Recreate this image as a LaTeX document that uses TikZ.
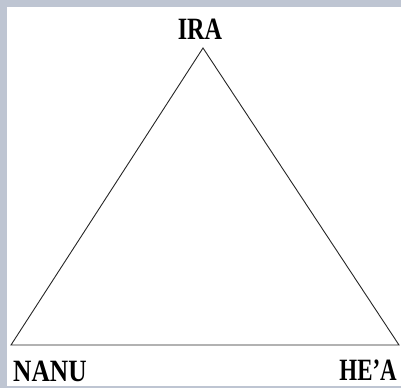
\documentclass[tikz,border=0pt]{standalone}
\usepackage{fontspec}
\setmainfont{Liberation Serif}
\definecolor{framegray}{RGB}{190,197,210}
\begin{document}
\begin{tikzpicture}[x=1pt,y=1pt,
  lbl/.style={inner sep=0pt,text depth=0pt,font=\fontsize{31}{31}\selectfont\bfseries},
  edge/.style={draw=black!85,line width=0.9pt}]
\useasboundingbox (0,0) rectangle (401,-388);
\fill[white] (0,0) rectangle (401,-388);
\fill[framegray] (0,0) rectangle (401,-7);
\fill[framegray] (0,0) rectangle (7,-388);
\fill[framegray] (0,-386) rectangle (401,-388);
\coordinate (top) at (203,-48);
\coordinate (bl) at (11,-345);
\coordinate (br) at (399,-345);
\draw[edge] (top) -- (bl) -- (br) -- cycle;
\node[lbl,anchor=base] (ira) at (200,-39) {\scalebox{0.78}[1]{IRA}};
\node[lbl,anchor=base west] (nanu) at (13,-381) {\scalebox{0.82}[1]{NANU}};
\node[lbl,anchor=base east] (hea) at (397,-380) {\scalebox{0.74}[1]{HE’A}};
\end{tikzpicture}
\end{document}
